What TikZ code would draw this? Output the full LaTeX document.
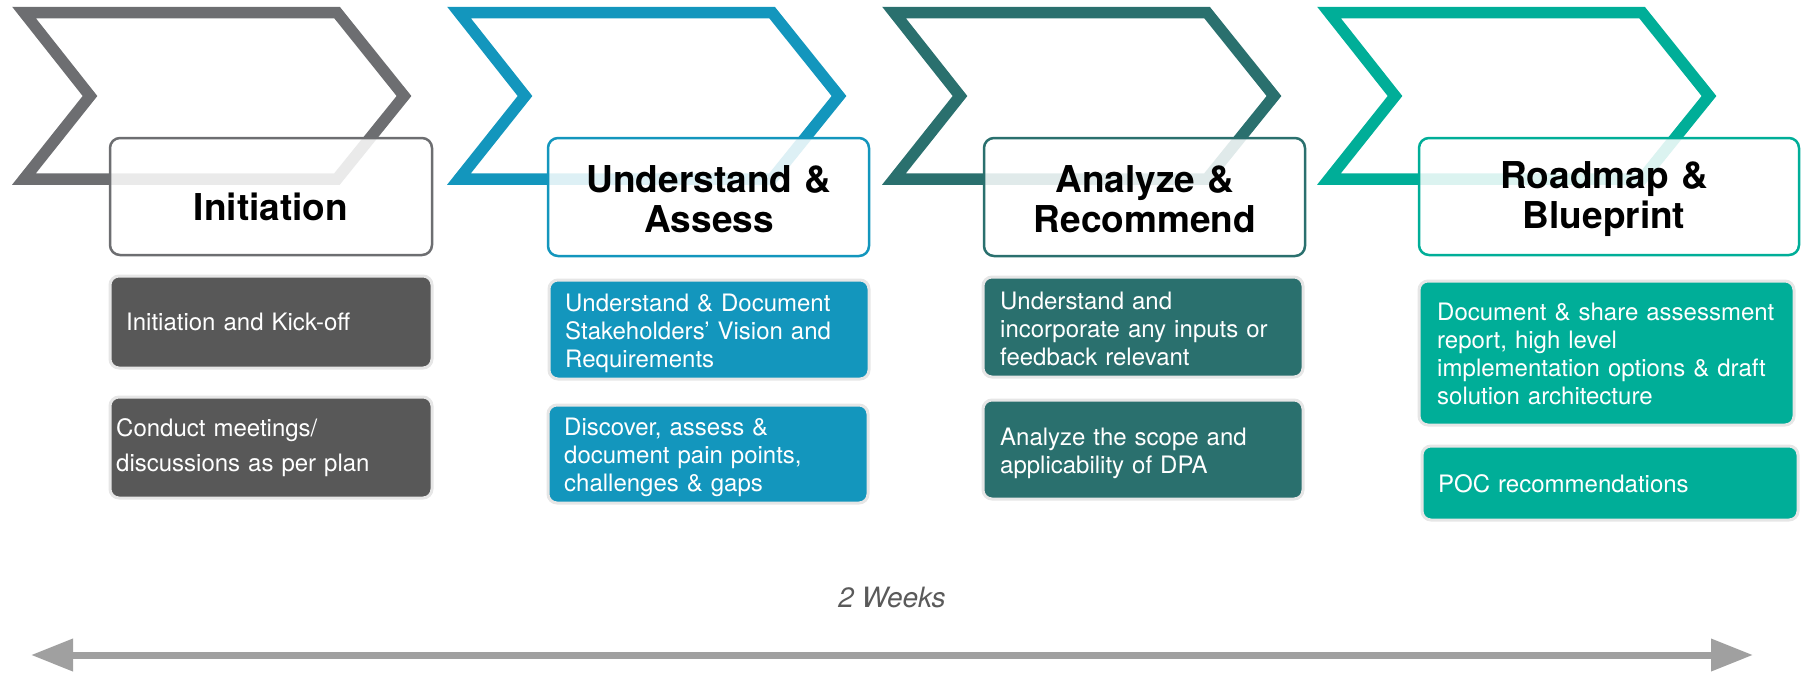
\documentclass[tikz,border=0pt]{standalone}
\usepackage{fontspec}
\setmainfont{TeX Gyre Heros}
\usetikzlibrary{arrows.meta}
\definecolor{cgray}{HTML}{6D6E71}
\definecolor{cblue}{HTML}{1396BD}
\definecolor{cdteal}{HTML}{2A706E}
\definecolor{cgreen}{HTML}{00AE98}
\definecolor{cdark}{HTML}{585858}
\definecolor{boxedge}{HTML}{E6E6E6}
\definecolor{arrowgray}{HTML}{A0A0A0}
\definecolor{weekgray}{HTML}{5A5A5A}
\tikzset{
  chev/.style={line width=11.5pt, line join=miter, miter limit=10},
  tbox/.style={draw, line width=2.5pt, rounded corners=10pt, fill=white, fill opacity=0.86, inner sep=0pt},
  ttext/.style={font=\bfseries\fontsize{37}{40}\selectfont, align=center, text=black, inner sep=0pt,
    text width=360pt, anchor=base},
  dbox/.style={draw=boxedge, line width=3pt, rounded corners=9pt, inner sep=0pt},
  dtext/.style={text=white, align=left, font=\fontsize{24}{28}\selectfont, inner sep=0pt,
    text width=360pt, anchor=base west},
  weeks/.style={font=\itshape\fontsize{28}{32}\selectfont, text=weekgray, inner sep=0pt},
  timeline/.style={draw=arrowgray, line width=7pt,
    {Triangle[length=42pt,width=31pt]}-{Triangle[length=42pt,width=31pt]}}
}
\newcommand{\chevron}[2]{%
  \draw[chev, draw=#2] (24+#1,12.5) -- (337+#1,12.5) -- (404+#1,96) -- (337+#1,179)
    -- (24+#1,179) -- (90+#1,96) -- cycle;}
\begin{document}
\begin{tikzpicture}[x=1pt,y=-1pt]
\useasboundingbox (0,0) rectangle (1806,673);
% chevrons
\chevron{0}{cgray}
\chevron{435}{cblue}
\chevron{870}{cdteal}
\chevron{1305}{cgreen}
% title boxes
\node[tbox, draw=cgray, minimum width=322pt, minimum height=117pt] (t1) at (271,196.5) {};
\node[tbox, draw=cblue, minimum width=321pt, minimum height=118pt] (t2) at (708.5,197) {};
\node[tbox, draw=cdteal, minimum width=321pt, minimum height=118pt] (t3) at (1144.5,197) {};
\node[tbox, draw=cgreen, minimum width=380pt, minimum height=117pt] (t4) at (1609,196.5) {};
\node[ttext] (t1l) at (271,220) {Initiation};
\node[ttext] (t2l) at (709,192) {Understand \&\\Assess};
\node[ttext] (t3l) at (1145,192) {Analyze \&\\Recommend};
\node[ttext] (t4l) at (1604,188) {Roadmap \&\\Blueprint};
% detail boxes
\node[dbox, fill=cdark, minimum width=322pt, minimum height=92pt] (d11) at (271,322) {};
\node[dbox, fill=cdark, minimum width=322pt, minimum height=101pt] (d12) at (271,447.5) {};
\node[dbox, fill=cblue, minimum width=320pt, minimum height=99pt] (d21) at (709,329.5) {};
\node[dbox, fill=cblue, minimum width=320pt, minimum height=98pt] (d22) at (708,454) {};
\node[dbox, fill=cdteal, minimum width=320pt, minimum height=100pt] (d31) at (1143,327) {};
\node[dbox, fill=cdteal, minimum width=320pt, minimum height=99pt] (d32) at (1143,449.5) {};
\node[dbox, fill=cgreen, minimum width=375pt, minimum height=144pt] (d41) at (1606.5,353) {};
\node[dbox, fill=cgreen, minimum width=376pt, minimum height=74pt] (d42) at (1610,483) {};
\node[dtext] (d11l) at (126,330) {Initiation and Kick-off};
\node[dtext, font=\fontsize{24}{35}\selectfont] (d12l) at (116,436) {Conduct meetings/\\discussions as per plan};
\node[dtext] (d21l) at (565,311) {Understand \& Document\\Stakeholders’ Vision and\\Requirements};
\node[dtext] (d22l) at (564,435) {Discover, assess \&\\document pain points,\\challenges \& gaps};
\node[dtext] (d31l) at (1000,309) {Understand and\\incorporate any inputs or\\feedback relevant};
\node[dtext] (d32l) at (1000,445) {Analyze the scope and\\applicability of DPA};
\node[dtext] (d41l) at (1437,320) {Document \& share assessment\\report, high level\\implementation options \& draft\\solution architecture};
\node[dtext] (d42l) at (1438,492) {POC recommendations};
% timeline
\node[weeks, anchor=base] (wk) at (892,607) {2 Weeks};
\coordinate (a1) at (31,655);
\coordinate (a2) at (1753,655);
\draw[timeline] (a1) -- (a2);
\end{tikzpicture}
\end{document}
